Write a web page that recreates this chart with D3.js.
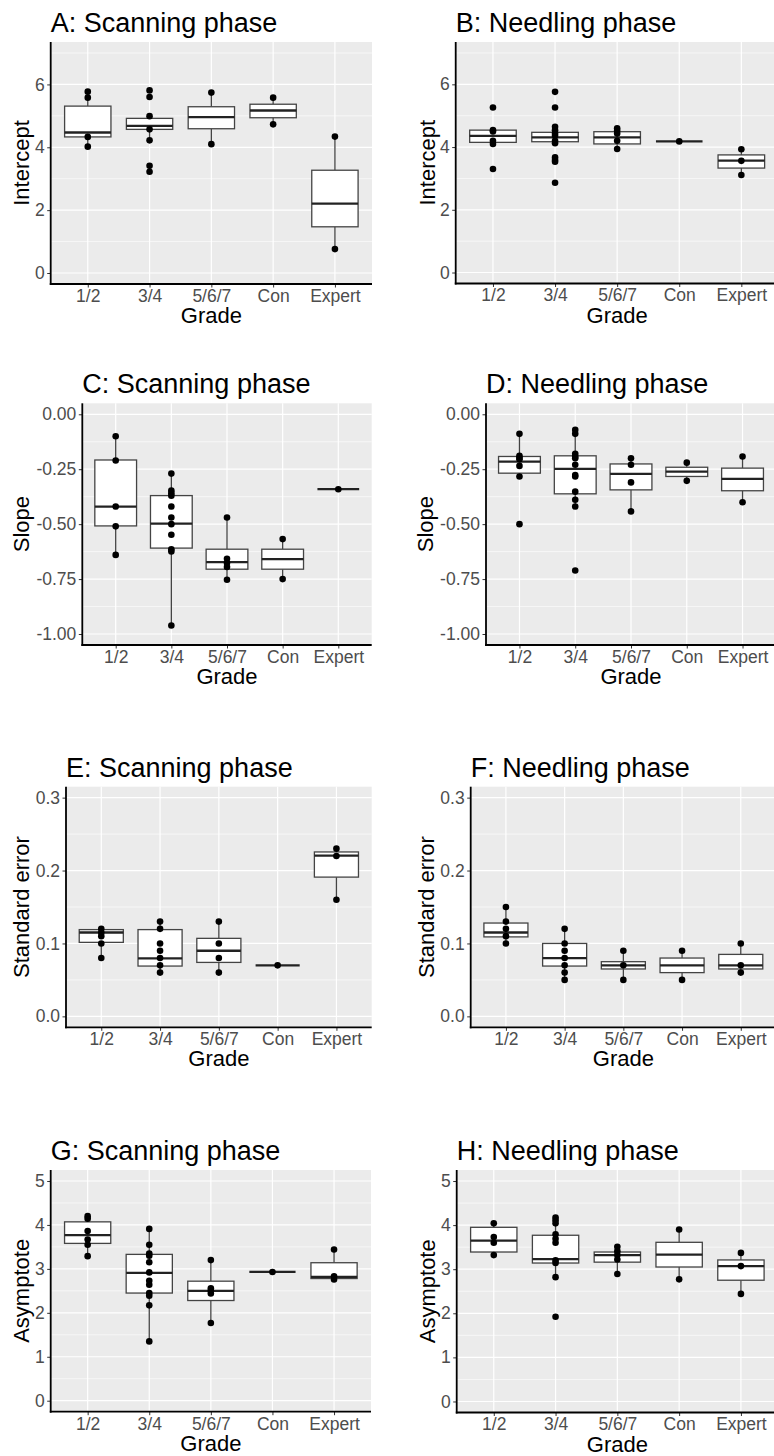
<!DOCTYPE html>
<html>
<head>
<meta charset="utf-8">
<script src="https://cdn.jsdelivr.net/npm/d3@7"></script>
<style>
  body { margin: 0; background: #fff; }
  svg { display: block; font-family: "Liberation Sans", Arial, sans-serif; }
</style>
</head>
<body>
<div id="chart"></div>
<script>
// Grades on the x axis of every panel
var grades = ["1/2", "3/4", "5/6/7", "Con", "Expert"];

// Box stats per grade: [lower whisker, Q1, median, Q3, upper whisker]
var interceptScanBox = [
  [4.02, 4.33, 4.47, 5.31, 5.77],
  [4.22, 4.57, 4.68, 4.92, 4.99],
  [4.10, 4.59, 4.96, 5.29, 5.74],
  [4.73, 4.94, 5.17, 5.37, 5.58],
  [0.76, 1.47, 2.21, 3.27, 4.34]
];
var interceptScanPts = [
  [5.77, 5.58, 4.33, 4.02],
  [5.81, 5.60, 4.99, 4.57, 4.22, 3.41, 3.22],
  [5.74, 4.10],
  [5.58, 4.73],
  [4.34, 0.76]
];

var interceptNeedleBox = [
  [4.10, 4.15, 4.36, 4.54, 4.54],
  [4.12, 4.17, 4.31, 4.47, 4.65],
  [3.94, 4.10, 4.31, 4.49, 4.60],
  [4.18, 4.18, 4.18, 4.18, 4.18],
  [3.11, 3.33, 3.57, 3.75, 3.93]
];
var interceptNeedlePts = [
  [5.26, 4.54, 4.50, 4.20, 4.10, 3.30],
  [5.76, 5.26, 4.65, 4.54, 4.43, 4.36, 4.20, 4.12, 3.67, 3.59, 3.53, 2.86],
  [4.60, 4.52, 4.43, 4.20, 3.94],
  [4.18],
  [3.93, 3.56, 3.11]
];

var slopeScanBox = [
  [-0.642, -0.508, -0.420, -0.208, -0.102],
  [-0.961, -0.609, -0.498, -0.370, -0.271],
  [-0.753, -0.705, -0.673, -0.614, -0.470],
  [-0.750, -0.705, -0.659, -0.614, -0.568],
  [-0.341, -0.341, -0.341, -0.341, -0.341]
];
var slopeScanPts = [
  [-0.10, -0.21, -0.42, -0.51, -0.64],
  [-0.27, -0.347, -0.359, -0.371, -0.42, -0.47, -0.50, -0.548, -0.614, -0.624, -0.961],
  [-0.47, -0.658, -0.677, -0.695, -0.753],
  [-0.568, -0.75],
  [-0.341]
];

var slopeNeedleBox = [
  [-0.283, -0.268, -0.215, -0.192, -0.089],
  [-0.420, -0.362, -0.248, -0.189, -0.071],
  [-0.442, -0.344, -0.271, -0.226, -0.200],
  [-0.303, -0.283, -0.261, -0.241, -0.220],
  [-0.400, -0.348, -0.294, -0.245, -0.192]
];
var slopeNeedlePts = [
  [-0.089, -0.189, -0.198, -0.205, -0.235, -0.283, -0.50],
  [-0.071, -0.089, -0.180, -0.192, -0.200, -0.230, -0.276, -0.283, -0.352, -0.389, -0.42, -0.711],
  [-0.20, -0.23, -0.31, -0.442],
  [-0.22, -0.303],
  [-0.192, -0.40]
];

var seScanBox = [
  [0.080, 0.1015, 0.115, 0.119, 0.121],
  [0.060, 0.069, 0.0795, 0.119, 0.130],
  [0.060, 0.074, 0.090, 0.107, 0.130],
  [0.070, 0.070, 0.070, 0.070, 0.070],
  [0.160, 0.191, 0.2205, 0.2255, 0.231]
];
var seScanPts = [
  [0.12, 0.115, 0.11, 0.10, 0.08],
  [0.13, 0.12, 0.10, 0.09, 0.08, 0.07, 0.06],
  [0.13, 0.10, 0.08, 0.06],
  [0.07],
  [0.23, 0.22, 0.16]
];

var seNeedleBox = [
  [0.100, 0.109, 0.115, 0.128, 0.150],
  [0.050, 0.069, 0.080, 0.100, 0.120],
  [0.050, 0.065, 0.070, 0.075, 0.090],
  [0.050, 0.060, 0.070, 0.080, 0.090],
  [0.060, 0.065, 0.070, 0.085, 0.100]
];
var seNeedlePts = [
  [0.15, 0.13, 0.12, 0.11, 0.10],
  [0.12, 0.10, 0.09, 0.08, 0.07, 0.06, 0.05],
  [0.09, 0.07, 0.05],
  [0.09, 0.05],
  [0.10, 0.07, 0.06]
];

var asymScanBox = [
  [3.29, 3.58, 3.77, 4.07, 4.20],
  [1.35, 2.45, 2.91, 3.33, 3.91],
  [1.77, 2.28, 2.50, 2.72, 3.20],
  [2.93, 2.93, 2.93, 2.93, 2.93],
  [2.74, 2.78, 2.82, 3.14, 3.44]
];
var asymScanPts = [
  [4.20, 4.14, 3.86, 3.67, 3.55, 3.29],
  [3.91, 3.55, 3.35, 3.30, 3.15, 2.92, 2.73, 2.64, 2.45, 2.39, 2.17, 1.35],
  [3.20, 2.56, 2.50, 2.44, 1.77],
  [2.93],
  [3.44, 2.83, 2.76]
];

var asymNeedleBox = [
  [3.32, 3.39, 3.65, 3.95, 4.04],
  [2.82, 3.14, 3.23, 3.77, 4.17],
  [2.89, 3.16, 3.32, 3.39, 3.51],
  [2.77, 3.05, 3.33, 3.61, 3.90],
  [2.44, 2.75, 3.07, 3.21, 3.37]
];
var asymNeedlePts = [
  [4.04, 3.73, 3.60, 3.32],
  [4.17, 4.11, 4.04, 3.79, 3.69, 3.60, 3.20, 3.14, 2.82, 1.92],
  [3.51, 3.41, 3.32, 3.22, 2.89],
  [3.90, 2.77],
  [3.37, 3.07, 2.44]
];

// y axis breaks
var interceptTicks = [0, 2, 4, 6];
var interceptMinor = [1, 3, 5, 7];
var slopeTicks = [-1, -0.75, -0.5, -0.25, 0];
var slopeMinor = [-0.875, -0.625, -0.375, -0.125];
var seTicks = [0, 0.1, 0.2, 0.3];
var seMinor = [0.05, 0.15, 0.25];
var asymTicks = [0, 1, 2, 3, 4, 5];
var asymMinor = [0.5, 1.5, 2.5, 3.5, 4.5];

var svgWidth = 774;
var svgHeight = 1456;

var svg = d3.select("#chart").append("svg")
  .attr("width", svgWidth)
  .attr("height", svgHeight);

// panel layout (plot area corners) plus what to draw in it
var panels = [
  {title: "A: Scanning phase", ylab: "Intercept", box: interceptScanBox, pts: interceptScanPts,
   ticks: interceptTicks, minor: interceptMinor, lim: [0, 7], fmt: d => String(d),
   left: 50.7, top: 42, right: 372, bottom: 284, labX: 22},
  {title: "B: Needling phase", ylab: "Intercept", box: interceptNeedleBox, pts: interceptNeedlePts,
   ticks: interceptTicks, minor: interceptMinor, lim: [0, 7], fmt: d => String(d),
   left: 455.7, top: 42, right: 778.6, bottom: 283.5, labX: 428},
  {title: "C: Scanning phase", ylab: "Slope", box: slopeScanBox, pts: slopeScanPts,
   ticks: slopeTicks, minor: slopeMinor, lim: [-1, 0], fmt: d => d.toFixed(2),
   left: 82.3, top: 403.3, right: 371.7, bottom: 645, labX: 22},
  {title: "D: Needling phase", ylab: "Slope", box: slopeNeedleBox, pts: slopeNeedlePts,
   ticks: slopeTicks, minor: slopeMinor, lim: [-1, 0], fmt: d => d.toFixed(2),
   left: 486, top: 403.3, right: 776, bottom: 645, labX: 426},
  {title: "E: Scanning phase", ylab: "Standard error", box: seScanBox, pts: seScanPts,
   ticks: seTicks, minor: seMinor, lim: [0, 0.3], fmt: d => d.toFixed(1),
   left: 66, top: 786.7, right: 371.7, bottom: 1027.3, labX: 22},
  {title: "F: Needling phase", ylab: "Standard error", box: seNeedleBox, pts: seNeedlePts,
   ticks: seTicks, minor: seMinor, lim: [0, 0.3], fmt: d => d.toFixed(1),
   left: 470.7, top: 786.7, right: 776, bottom: 1027.3, labX: 427},
  {title: "G: Scanning phase", ylab: "Asymptote", box: asymScanBox, pts: asymScanPts,
   ticks: asymTicks, minor: asymMinor, lim: [0, 5], fmt: d => String(d),
   left: 50.7, top: 1170, right: 371, bottom: 1411.7, labX: 22},
  {title: "H: Needling phase", ylab: "Asymptote", box: asymNeedleBox, pts: asymNeedlePts,
   ticks: asymTicks, minor: asymMinor, lim: [0, 5], fmt: d => String(d),
   left: 456.7, top: 1170, right: 778, bottom: 1412.5, labX: 428}
];

panels.forEach(function(p) {
  var g = svg.append("g");

  // ggplot-style 5% expansion of the y limits
  var span = p.lim[1] - p.lim[0];
  var y = d3.scaleLinear()
    .domain([p.lim[0] - span * 0.05, p.lim[1] + span * 0.05])
    .range([p.bottom, p.top]);

  var x = d3.scalePoint()
    .domain(grades)
    .range([p.left, p.right])
    .padding(0.6);
  var boxW = x.step() * 0.75;

  // panel background + grid
  g.append("rect")
    .attr("x", p.left).attr("y", p.top)
    .attr("width", p.right - p.left).attr("height", p.bottom - p.top)
    .attr("fill", "#EBEBEB");

  g.selectAll(".minor").data(p.minor).enter().append("line")
    .attr("x1", p.left).attr("x2", p.right)
    .attr("y1", d => y(d)).attr("y2", d => y(d))
    .attr("stroke", "#fff").attr("stroke-width", 0.6);

  g.selectAll(".major").data(p.ticks).enter().append("line")
    .attr("x1", p.left).attr("x2", p.right)
    .attr("y1", d => y(d)).attr("y2", d => y(d))
    .attr("stroke", "#fff").attr("stroke-width", 1.2);

  g.selectAll(".vmajor").data(grades).enter().append("line")
    .attr("x1", d => x(d)).attr("x2", d => x(d))
    .attr("y1", p.top).attr("y2", p.bottom)
    .attr("stroke", "#fff").attr("stroke-width", 1.2);

  // boxplots
  var boxes = g.selectAll(".box")
    .data(p.box.map((s, i) => ({grade: grades[i], s: s})))
    .enter().append("g");

  boxes.append("line")
    .attr("x1", d => x(d.grade)).attr("x2", d => x(d.grade))
    .attr("y1", d => y(d.s[4])).attr("y2", d => y(d.s[3]))
    .attr("stroke", "#444").attr("stroke-width", 1.3);
  boxes.append("line")
    .attr("x1", d => x(d.grade)).attr("x2", d => x(d.grade))
    .attr("y1", d => y(d.s[1])).attr("y2", d => y(d.s[0]))
    .attr("stroke", "#444").attr("stroke-width", 1.3);
  boxes.append("rect")
    .attr("x", d => x(d.grade) - boxW / 2)
    .attr("y", d => y(d.s[3]))
    .attr("width", boxW)
    .attr("height", d => y(d.s[1]) - y(d.s[3]))
    .attr("fill", "#fff")
    .attr("stroke", "#444").attr("stroke-width", 1.3);
  boxes.append("line")
    .attr("x1", d => x(d.grade) - boxW / 2).attr("x2", d => x(d.grade) + boxW / 2)
    .attr("y1", d => y(d.s[2])).attr("y2", d => y(d.s[2]))
    .attr("stroke", "#222").attr("stroke-width", 2.3);

  // points
  var pts = [];
  p.pts.forEach(function(list, i) {
    list.forEach(function(v) { pts.push({grade: grades[i], v: v}); });
  });
  g.selectAll(".pt").data(pts).enter().append("circle")
    .attr("cx", d => x(d.grade))
    .attr("cy", d => y(d.v))
    .attr("r", 3.3)
    .attr("fill", "#000");

  // axes
  var leftAxis = d3.axisLeft(y)
    .tickValues(p.ticks)
    .tickFormat(p.fmt)
    .tickSize(3.5)
    .tickPadding(2.5);
  var bottomAxis = d3.axisBottom(x)
    .tickSize(3.5)
    .tickPadding(2);

  var ya = g.append("g")
    .attr("transform", `translate(${p.left},0)`)
    .call(leftAxis);
  var xa = g.append("g")
    .attr("transform", `translate(0,${p.bottom})`)
    .call(bottomAxis);

  [ya, xa].forEach(function(a) {
    a.select(".domain").remove();
    a.selectAll(".tick line").attr("stroke", "#333");
    a.selectAll(".tick text")
      .attr("fill", "#4D4D4D")
      .style("font-size", "17.5px")
      .style("font-family", "'Liberation Sans', Arial, sans-serif");
  });

  // axis lines
  g.append("line")
    .attr("x1", p.left).attr("x2", p.left)
    .attr("y1", p.top).attr("y2", p.bottom + 1)
    .attr("stroke", "#000").attr("stroke-width", 1.8);
  g.append("line")
    .attr("x1", p.left - 0.9).attr("x2", p.right)
    .attr("y1", p.bottom).attr("y2", p.bottom)
    .attr("stroke", "#000").attr("stroke-width", 1.8);

  // titles
  g.append("text")
    .attr("x", p.left)
    .attr("y", p.top - 10)
    .style("font-size", "27px")
    .attr("fill", "#000")
    .text(p.title);

  g.append("text")
    .attr("transform", `translate(${(p.left + p.right) / 2}, ${p.bottom + 39})`)
    .attr("text-anchor", "middle")
    .style("font-size", "22px")
    .attr("fill", "#000")
    .text("Grade");

  g.append("text")
    .attr("transform", `translate(${p.labX}, ${(p.top + p.bottom) / 2}) rotate(-90)`)
    .attr("text-anchor", "middle")
    .attr("dy", "0.32em")
    .style("font-size", "22px")
    .attr("fill", "#000")
    .text(p.ylab);
});
</script>
</body>
</html>
